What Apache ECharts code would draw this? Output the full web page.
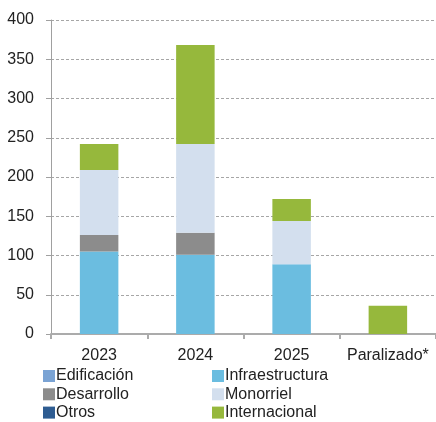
<!DOCTYPE html>
<html>
<head>
<meta charset="utf-8">
<script src="https://cdn.jsdelivr.net/npm/echarts@6/dist/echarts.min.js"></script>
<style>html,body{margin:0;padding:0;background:#fff}#c{width:436px;height:422px}</style>
</head>
<body>
<div id="c"></div>
<script>
const categories = ['2023', '2024', '2025', 'Paralizado*'];
const yTicks = [0, 50, 100, 150, 200, 250, 300, 350, 400];
const edificacion = [0, 0, 0, 0];
const infraestructura = [105, 101, 89, 0];
const desarrollo = [21, 28, 0, 0];
const monorriel = [83, 113, 55, 0];
const otros = [0, 0, 0, 0];
const internacional = [33, 126, 28, 36];

const seriesDefs = [
  ['Edificación', edificacion, '#7aa3d4'],
  ['Infraestructura', infraestructura, '#6bbde0'],
  ['Desarrollo', desarrollo, '#8c8c8c'],
  ['Monorriel', monorriel, '#d3dfee'],
  ['Otros', otros, '#2e5c91'],
  ['Internacional', internacional, '#96b83c']
];

const font = {fontFamily: '"Liberation Sans", Arial, sans-serif', fontSize: 16, color: '#222'};
const legendCommon = {
  orient: 'vertical', top: 367, itemWidth: 12, itemHeight: 12, itemGap: 0.3,
  icon: 'rect', selectedMode: false, padding: 0,
  textStyle: Object.assign({}, font, {lineHeight: 18, padding: [0, 0, 0, -4]})
};

const chart = echarts.init(document.getElementById('c'), null, {renderer: 'canvas'});
chart.setOption({
  animation: false,
  grid: {left: 51, top: 20, width: 388, height: 314},
  legend: [
    Object.assign({left: 43, data: ['Edificación', 'Desarrollo', 'Otros']}, legendCommon),
    Object.assign({left: 212, data: ['Infraestructura', 'Monorriel', 'Internacional']}, legendCommon)
  ],
  xAxis: {
    type: 'category', data: categories,
    axisLine: {lineStyle: {color: '#ababab', width: 2}},
    axisTick: {show: true, length: 5, lineStyle: {color: '#ababab', width: 2}},
    axisLabel: Object.assign({margin: 14, interval: 0}, font)
  },
  yAxis: {
    type: 'value', min: yTicks[0], max: yTicks[yTicks.length - 1], interval: yTicks[1] - yTicks[0],
    axisLine: {show: true, lineStyle: {color: '#a0a0a0', width: 1}},
    axisTick: {show: true, length: 5, lineStyle: {color: '#a0a0a0'}},
    axisLabel: Object.assign({margin: 17}, font),
    splitLine: {lineStyle: {color: '#a6a6a6', type: [3, 2], width: 1}}
  },
  series: seriesDefs.map(([name, data, color]) => ({
    name, type: 'bar', stack: 'total', data, barWidth: '40%',
    itemStyle: {color}
  }))
});
</script>
</body>
</html>
